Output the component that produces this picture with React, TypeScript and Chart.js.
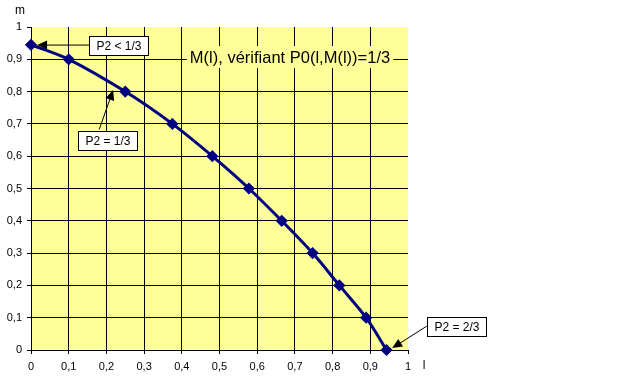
import React, { useEffect, useRef } from "react";
import { Chart, registerables } from "chart.js";

Chart.register(...registerables);

const lValues = [0, 0.1, 0.25, 0.375, 0.481, 0.578, 0.665, 0.747, 0.818, 0.889, 0.943];
const mValues = [0.945, 0.9, 0.8, 0.7, 0.6, 0.5, 0.4, 0.3, 0.2, 0.1, 0];

const titleText = "M(l), vérifiant P0(l,M(l))=1/3";
const titlePos = [0.687, 0.907];

const noteLabels = ["P2 < 1/3", "P2 = 1/3", "P2 = 2/3"];
const noteBoxCenters = [
  [0.233, 0.944],
  [0.203, 0.649],
  [1.128, 0.073],
];
const noteArrowFrom = [
  [0.164, 0.944],
  [0.181, 0.683],
  [1.05, 0.074],
];
const noteArrowTo = [
  [0.016, 0.944],
  [0.218, 0.805],
  [0.958, 0.006],
];

const FONT = "'Liberation Sans', Arial, sans-serif";

const fmt = (v: number) => {
  const r = Math.round(v * 10) / 10;
  return String(r).replace(".", ",");
};

const isOne = (v: any) => typeof v === "number" && Math.abs(v - 1) < 1e-6;

const decorPlugin = {
  id: "decor",
  beforeDraw(chart: any) {
    const { ctx, chartArea } = chart;
    ctx.save();
    ctx.fillStyle = "#ffffff";
    ctx.fillRect(0, 0, chart.width, chart.height);
    ctx.fillStyle = "#ffff99";
    ctx.fillRect(chartArea.left, chartArea.top, chartArea.right - chartArea.left, chartArea.bottom - chartArea.top);
    ctx.restore();
  },
  afterDraw(chart: any) {
    const { ctx, chartArea, scales } = chart;
    const xs = scales.x;
    const ys = scales.y;
    const px = (v: number) => xs.getPixelForValue(v);
    const py = (v: number) => ys.getPixelForValue(v);
    ctx.save();
    // axis titles
    ctx.fillStyle = "#000";
    ctx.font = `12px ${FONT}`;
    ctx.textAlign = "center";
    ctx.textBaseline = "middle";
    ctx.fillText("m", chartArea.left - 11, chartArea.top - 16);
    ctx.fillText("l", chartArea.right + 16, chartArea.bottom + 16);

    // title text with yellow background
    ctx.font = `16.5px ${FONT}`;
    const tx = px(titlePos[0]);
    const ty = py(titlePos[1]);
    const tw = ctx.measureText(titleText).width;
    ctx.fillStyle = "#ffff99";
    ctx.fillRect(tx - tw / 2 - 3, ty - 11, tw + 6, 22);
    ctx.fillStyle = "#000";
    ctx.fillText(titleText, tx, ty + 1);

    // notes
    ctx.font = `12px ${FONT}`;
    for (let i = 0; i < noteLabels.length; i++) {
      const fx = px(noteArrowFrom[i][0]);
      const fy = py(noteArrowFrom[i][1]);
      const ex = px(noteArrowTo[i][0]);
      const ey = py(noteArrowTo[i][1]);
      const ang = Math.atan2(ey - fy, ex - fx);
      const hl = 10;
      const hw = 4.5;
      ctx.strokeStyle = "#000";
      ctx.lineWidth = 1;
      ctx.beginPath();
      ctx.moveTo(fx, fy);
      ctx.lineTo(ex - Math.cos(ang) * hl * 0.8, ey - Math.sin(ang) * hl * 0.8);
      ctx.stroke();
      ctx.fillStyle = "#000";
      ctx.beginPath();
      ctx.moveTo(ex, ey);
      ctx.lineTo(ex - Math.cos(ang) * hl - Math.sin(ang) * hw, ey - Math.sin(ang) * hl + Math.cos(ang) * hw);
      ctx.lineTo(ex - Math.cos(ang) * hl + Math.sin(ang) * hw, ey - Math.sin(ang) * hl - Math.cos(ang) * hw);
      ctx.closePath();
      ctx.fill();

      const cx = px(noteBoxCenters[i][0]);
      const cy = py(noteBoxCenters[i][1]);
      const w = Math.round(ctx.measureText(noteLabels[i]).width + 14);
      const h = 19;
      const bx = Math.round(cx - w / 2) + 0.5;
      const by = Math.round(cy - h / 2) + 0.5;
      ctx.fillStyle = "#ffffff";
      ctx.fillRect(bx, by, w, h);
      ctx.strokeStyle = "#000";
      ctx.strokeRect(bx, by, w, h);
      ctx.fillStyle = "#000";
      ctx.fillText(noteLabels[i], bx + w / 2, by + h / 2 + 1);
    }
    ctx.restore();
  },
};

export default function App() {
  const ref = useRef<HTMLCanvasElement | null>(null);
  useEffect(() => {
    document.body.style.margin = "0";
    if (!ref.current) return;
    const data = lValues.map((x, i) => ({ x, y: mValues[i] }));
    const gridColor = (c: any) => (c.tick && isOne(c.tick.value) ? "rgba(0,0,0,0)" : "#000");
    const chart = new Chart(ref.current, {
      type: "line",
      data: {
        datasets: [
          {
            data,
            borderColor: "#000080",
            backgroundColor: "#000080",
            borderWidth: 3,
            tension: 0.3,
            pointStyle: "rectRot",
            pointRadius: 4,
            pointBackgroundColor: "#000080",
            pointBorderColor: "#000080",
            clip: false as any,
          },
        ],
      },
      options: {
        animation: false,
        responsive: false,
        layout: { padding: { left: 0, top: 27, right: 214, bottom: 0 } },
        plugins: { legend: { display: false }, tooltip: { enabled: false } },
        scales: {
          x: {
            type: "linear",
            min: 0,
            max: 1,
            ticks: {
              stepSize: 0.1,
              callback: (v: any) => fmt(Number(v)),
              color: "#000",
              font: { family: FONT, size: 11 },
              padding: 6,
              maxRotation: 0,
              autoSkip: false,
            },
            grid: { color: gridColor, tickColor: "#000", tickLength: 4, lineWidth: 1 },
            border: { color: "#000", width: 1 },
            afterFit: (s: any) => {
              s.height = 31;
            },
          },
          y: {
            type: "linear",
            min: 0,
            max: 1,
            ticks: {
              stepSize: 0.1,
              callback: (v: any) => fmt(Number(v)),
              color: "#000",
              font: { family: FONT, size: 11 },
              padding: 5,
              autoSkip: false,
            },
            grid: { color: gridColor, tickColor: "#000", tickLength: 4, lineWidth: 1 },
            border: { color: "#000", width: 1 },
            afterFit: (s: any) => {
              s.width = 31;
            },
          },
        },
      },
      plugins: [decorPlugin],
    });
    return () => chart.destroy();
  }, []);
  return (
    <div style={{ width: 622, height: 381 }}>
      <canvas ref={ref} width={622} height={381} style={{ display: "block" }} />
    </div>
  );
}
